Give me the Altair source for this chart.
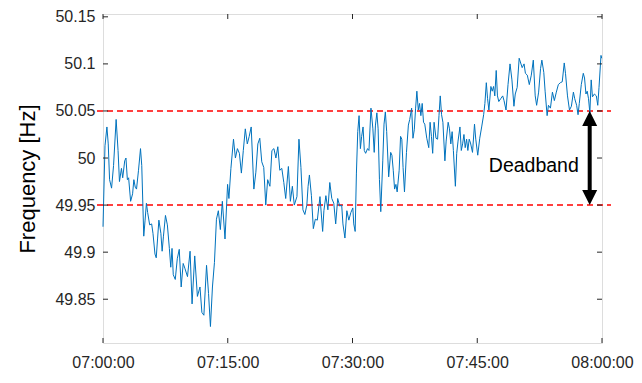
import altair as alt
import pandas as pd

# minutes after 07:00:00
t_min = [0, 0.24, 0.47, 0.63, 0.79, 1.03, 1.27, 1.58, 1.81, 1.98, 2.22, 2.37, 2.61, 2.76, 2.93, 3.08,
         3.32, 3.56, 3.71, 3.88, 4.03, 4.27, 4.51, 4.66, 4.90, 5.06, 5.22, 5.37, 5.61, 5.85, 6.01, 6.25,
         6.40, 6.56, 6.72, 6.96, 7.11, 7.27, 7.51, 7.74, 7.98, 8.15, 8.30, 8.45, 8.69, 8.93, 9.17, 9.40,
         9.64, 9.84, 10.16, 10.47, 10.71, 11.03, 11.35, 11.66, 11.89, 12.13, 12.45, 12.69, 12.92, 13.16,
         13.40, 13.64, 13.87, 14.11, 14.35, 14.67, 14.98, 15.14, 15.38, 15.69, 15.92, 16.16, 16.40, 16.64,
         16.87, 17.11, 17.35, 17.58, 17.82, 18.14, 18.38, 18.62, 18.85, 19.09, 19.33, 19.57, 19.80, 20.07,
         20.31, 20.55, 20.79, 21.02, 21.26, 21.50, 21.74, 21.97, 22.29, 22.53, 22.77, 23.00, 23.32, 23.56,
         23.80, 24.04, 24.27, 24.51, 24.66, 24.82, 25.06, 25.29, 25.53, 25.77, 26.09, 26.41, 26.56, 26.80,
         27.04, 27.27, 27.51, 27.75, 27.98, 28.22, 28.46, 28.70, 28.85, 29.09, 29.32, 29.56, 29.80, 30.04,
         30.15, 30.32, 30.47, 30.63, 30.79, 30.95, 31.10, 31.27, 31.42, 31.58, 31.81, 31.98, 32.22, 32.45,
         32.61, 32.76, 32.93, 33.08, 33.24, 33.40, 33.64, 33.79, 33.95, 34.11, 34.35, 34.59, 34.74, 34.90,
         35.06, 35.22, 35.37, 35.61, 35.78, 35.93, 36.08, 36.25, 36.49, 36.72, 36.88, 37.11, 37.27, 37.43,
         37.59, 37.74, 37.91, 38.06, 38.22, 38.38, 38.54, 38.69, 38.93, 39.17, 39.33, 39.49, 39.64, 39.81,
         40.04, 40.23, 40.40, 40.55, 40.71, 40.87, 41.11, 41.26, 41.50, 41.66, 41.82, 41.98, 42.13, 42.37,
         42.53, 42.69, 42.92, 43.08, 43.24, 43.40, 43.55, 43.72, 43.87, 44.03, 44.19, 44.43, 44.67, 44.82,
         45.06, 45.30, 45.53, 45.77, 45.92, 46.09, 46.24, 46.40, 46.64, 46.80, 46.96, 47.11, 47.28, 47.43,
         47.59, 47.82, 48.06, 48.22, 48.46, 48.70, 48.94, 49.17, 49.41, 49.57, 49.80, 50.04, 50.40, 50.63,
         50.79, 51.02, 51.26, 51.50, 51.74, 51.97, 52.14, 52.38, 52.61, 52.77, 53.00, 53.16, 53.40, 53.56,
         53.80, 54.04, 54.27, 54.51, 54.75, 54.99, 55.22, 55.46, 55.61, 55.85, 56.09, 56.32, 56.56, 56.72,
         56.95, 57.12, 57.27, 57.51, 57.75, 57.90, 58.07, 58.22, 58.38, 58.54, 58.70, 58.85, 59.09, 59.32,
         59.49, 59.64, 59.88, 59.96]

freq = [49.927, 50.013, 50.033, 50.015, 49.977, 49.968, 49.992, 50.041, 50.008, 49.975, 49.989, 49.979,
        49.997, 50.000, 49.977, 49.979, 49.954, 49.962, 49.977, 49.969, 49.967, 49.987, 50.010, 49.992,
        49.917, 49.934, 49.952, 49.942, 49.929, 49.930, 49.920, 49.898, 49.894, 49.914, 49.934, 49.920,
        49.901, 49.917, 49.939, 49.929, 49.904, 49.884, 49.904, 49.876, 49.871, 49.893, 49.903, 49.863,
        49.888, 49.883, 49.874, 49.901, 49.845, 49.896, 49.853, 49.863, 49.836, 49.833, 49.886, 49.856,
        49.821, 49.863, 49.889, 49.935, 49.944, 49.924, 49.954, 49.914, 49.972, 49.957, 49.989, 50.020,
        50.000, 50.010, 50.005, 49.984, 50.008, 50.031, 50.015, 50.023, 50.033, 49.967, 49.985, 50.015,
        50.021, 49.996, 49.990, 49.950, 49.977, 49.970, 50.008, 50.010, 50.000, 50.012, 49.987, 49.989,
        49.974, 49.957, 49.991, 49.954, 49.970, 49.950, 49.959, 50.020, 49.990, 49.945, 49.940, 49.950,
        49.970, 49.982, 49.960, 49.925, 49.935, 49.934, 49.959, 49.922, 49.944, 49.960, 49.945, 49.974,
        49.957, 49.952, 49.930, 49.957, 49.949, 49.950, 49.930, 49.915, 49.944, 49.934, 49.942, 49.947,
        49.930, 49.922, 49.984, 50.028, 50.045, 50.010, 50.023, 50.033, 50.008, 50.005, 50.010, 50.008,
        50.053, 50.031, 50.006, 50.035, 50.048, 50.031, 49.977, 49.943, 49.997, 50.036, 50.049, 50.028,
        49.980, 50.006, 50.003, 49.987, 49.967, 49.972, 49.964, 49.987, 50.023, 50.020, 49.990, 49.964,
        50.006, 50.035, 50.041, 50.053, 50.021, 50.030, 50.053, 50.071, 50.051, 50.058, 50.045, 50.058,
        50.038, 50.036, 50.021, 50.011, 50.038, 50.023, 50.005, 50.038, 50.021, 50.020, 50.045, 50.066,
        50.046, 50.038, 49.997, 50.018, 50.038, 50.031, 50.015, 50.028, 50.008, 49.970, 50.005, 50.018,
        50.033, 50.008, 50.015, 50.025, 50.011, 50.020, 50.008, 50.020, 50.016, 50.006, 50.036, 50.020,
        50.003, 50.021, 50.033, 50.046, 50.058, 50.080, 50.063, 50.051, 50.076, 50.071, 50.076, 50.066,
        50.093, 50.066, 50.060, 50.063, 50.066, 50.061, 50.051, 50.078, 50.100, 50.083, 50.055, 50.068,
        50.075, 50.106, 50.096, 50.100, 50.090, 50.088, 50.078, 50.088, 50.104, 50.066, 50.056, 50.070,
        50.095, 50.104, 50.091, 50.071, 50.045, 50.056, 50.053, 50.070, 50.061, 50.070, 50.078, 50.080,
        50.081, 50.101, 50.090, 50.066, 50.051, 50.055, 50.070, 50.063, 50.056, 50.046, 50.058, 50.078,
        50.090, 50.085, 50.068, 50.071, 50.063, 50.048, 50.083, 50.065, 50.068, 50.066, 50.056, 50.075,
        50.109, 50.106]

deadband = [50.05, 49.95]
y_ticks = [49.85, 49.9, 49.95, 50.0, 50.05, 50.1, 50.15]
x_tick_min = [0, 15, 30, 45, 60]
arrow_min = 58.52
label_min = 51.8
label_val = 49.991
label_text = "Deadband"

base = pd.Timestamp("2024-01-01 07:00:00")
def ts(m):
    return base + pd.to_timedelta(m, unit="m")

line_df = pd.DataFrame({"t": [ts(m) for m in t_min], "f": freq})
ref_df = pd.DataFrame({"f": deadband})
ytick_df = pd.DataFrame({"f": y_ticks})
xtick_df = pd.DataFrame({"t": [ts(m) for m in x_tick_min]})
arrow_df = pd.DataFrame({"t": [ts(arrow_min)], "f": [deadband[0]], "f2": [deadband[1]]})
arrow_shaft = pd.DataFrame({"t": [ts(arrow_min)], "f": [deadband[0] - 0.01], "f2": [deadband[1] + 0.01]})
text_df = pd.DataFrame({"t": [ts(label_min)], "f": [label_val], "txt": [label_text]})

W, H = 499, 329
FONT = "Liberation Sans"
AX = "#262626"

def dt(m):
    return alt.DateTime(year=2024, month=1, date=1, hours=7 + m // 60, minutes=m % 60)

xscale = alt.Scale(domain=[dt(0), dt(60)])
yscale = alt.Scale(domain=[49.8035, 50.153], nice=False, zero=False)

xaxis = alt.Axis(values=[dt(m) for m in x_tick_min],
                 format="%H:%M:%S", title=None, ticks=False, domain=False, grid=False,
                 labelFont=FONT, labelFontSize=16, labelColor=AX, labelPadding=11, labelFlush=False)
yaxis = alt.Axis(values=y_ticks, format="~g", title="Frequency [Hz]", ticks=False, domain=False,
                 grid=False, labelFont=FONT, labelFontSize=16, labelColor=AX, labelPadding=8,
                 titleFont=FONT, titleFontSize=22, titleFontWeight="normal", titleColor="#000000",
                 titlePadding=15)

line = alt.Chart(line_df).mark_line(color="#0072BD", strokeWidth=1).encode(
    x=alt.X("t:T", scale=xscale, axis=xaxis),
    y=alt.Y("f:Q", scale=yscale, axis=yaxis),
)

refs = alt.Chart(ref_df).mark_rule(color="#FF0000", strokeDash=[6, 4], strokeWidth=1.5).encode(
    y=alt.Y("f:Q", scale=yscale), x=alt.value(-6), x2=alt.value(W + 9))

ytl = alt.Chart(ytick_df).mark_rule(color=AX, strokeWidth=1).encode(
    y=alt.Y("f:Q", scale=yscale), x=alt.value(0), x2=alt.value(5))
ytr = alt.Chart(ytick_df).mark_rule(color=AX, strokeWidth=1).encode(
    y=alt.Y("f:Q", scale=yscale), x=alt.value(W - 5), x2=alt.value(W))
xtb = alt.Chart(xtick_df).mark_rule(color=AX, strokeWidth=1).encode(
    x=alt.X("t:T", scale=xscale), y=alt.value(H - 5), y2=alt.value(H))
xtt = alt.Chart(xtick_df).mark_rule(color=AX, strokeWidth=1).encode(
    x=alt.X("t:T", scale=xscale), y=alt.value(0), y2=alt.value(5))

shaft = alt.Chart(arrow_shaft).mark_rule(color="black", strokeWidth=4).encode(
    x=alt.X("t:T", scale=xscale), y=alt.Y("f:Q", scale=yscale), y2="f2:Q")
head_up = alt.Chart(arrow_df).mark_point(shape="M0,0L-0.5,1L0.5,1Z", filled=True, opacity=1,
                                         color="black", size=900).encode(
    x=alt.X("t:T", scale=xscale), y=alt.Y("f:Q", scale=yscale))
head_dn = alt.Chart(arrow_df).mark_point(shape="M0,0L-0.5,-1L0.5,-1Z", filled=True, opacity=1,
                                         color="black", size=900).encode(
    x=alt.X("t:T", scale=xscale), y=alt.Y("f2:Q", scale=yscale))

label = alt.Chart(text_df).mark_text(font=FONT, fontSize=19.5, color="black", align="center",
                                     baseline="middle").encode(
    x=alt.X("t:T", scale=xscale), y=alt.Y("f:Q", scale=yscale), text="txt:N")

chart = alt.layer(refs, line, ytl, ytr, xtb, xtt, shaft, head_up, head_dn, label).properties(
    width=W, height=H,
    autosize=alt.AutoSizeParams(type="none"),
    padding={"left": 95, "top": 6, "right": 32, "bottom": 28},
).configure_view(stroke=AX, strokeWidth=1).configure(background="white")

chart.save("out.html", embed_options={"renderer": "svg", "actions": False})
